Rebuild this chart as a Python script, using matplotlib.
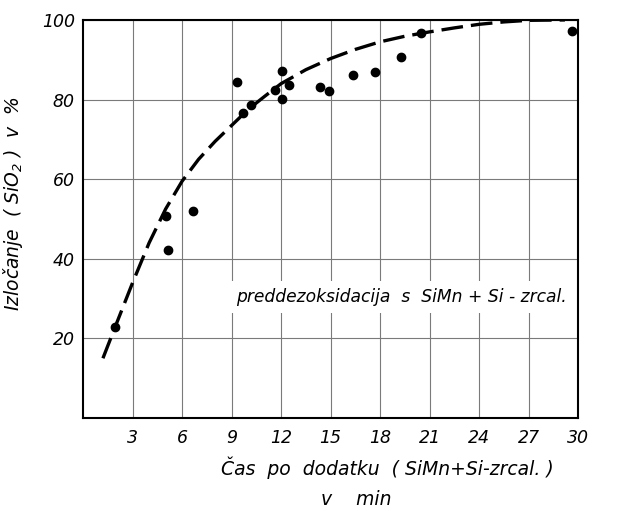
import matplotlib.pyplot as plt
import numpy as np

# measured points
time_min = [1.95, 5.0, 5.15, 6.65, 9.35, 9.7, 10.15, 11.6, 12.05, 12.05,
            12.5, 14.35, 14.9, 16.35, 17.7, 19.25, 20.5, 29.65]
removal = [22.9, 50.7, 42.2, 52.1, 84.4, 76.5, 78.6, 82.5, 87.1, 80.2,
           83.6, 83.1, 82.2, 86.1, 86.9, 90.8, 96.8, 97.2]

# dashed trend curve
curve_x = [1.2, 2.0, 3.0, 4.0, 5.0, 6.0, 7.0, 8.0, 9.0, 10.0, 11.0, 12.0,
           13.5, 15.0, 16.5, 18.0, 19.5, 21.0, 22.5, 24.0, 25.5, 27.0, 29.2]
curve_y = [15.0, 23.5, 34.0, 44.0, 52.5, 59.5, 65.0, 69.5, 73.5, 77.5, 80.8, 84.0,
           87.5, 90.3, 92.6, 94.5, 95.9, 97.0, 98.0, 98.9, 99.5, 99.9, 100.0]

xticks = [3, 6, 9, 12, 15, 18, 21, 24, 27, 30]
yticks = [20, 40, 60, 80, 100]

plt.rcParams['font.family'] = ['DejaVu Sans']
plt.rcParams['font.style'] = 'italic'

fig = plt.figure(figsize=(6.25, 5.11), dpi=100)
ax = fig.add_axes([0.133, 0.182, 0.792, 0.779])

ax.plot(curve_x, curve_y, color='black', linewidth=2.4, dashes=(6.5, 2.4),
        solid_capstyle='butt', dash_capstyle='butt', zorder=3)
ax.plot(time_min, removal, linestyle='none', marker='o', color='black',
        markersize=6, zorder=4)

ax.set_xlim(0, 30)
ax.set_ylim(0, 100)
ax.set_xticks(xticks)
ax.set_yticks(yticks)
ax.tick_params(length=0, labelsize=12.5)
ax.tick_params(axis='x', pad=8)
ax.tick_params(axis='y', pad=6)
ax.grid(True, color='#7a7a7a', linewidth=0.8)
ax.set_axisbelow(True)
for s in ax.spines.values():
    s.set_linewidth(1.5)

ax.set_ylabel('Izločanje  ( SiO$_2$ )  v  %', fontsize=13.5, labelpad=10)
ax.yaxis.set_label_coords(-0.118, 0.54)

ax.text(0.614, -0.125, 'Čas  po  dodatku  ( SiMn+Si-zrcal. )', transform=ax.transAxes,
        ha='center', va='center', fontsize=13.5)
ax.text(0.552, -0.205, 'v    min', transform=ax.transAxes,
        ha='center', va='center', fontsize=13.5)

ax.text(9.25, 30.5, 'preddezoksidacija  s  SiMn + Si - zrcal.', fontsize=12.3,
        ha='left', va='center', zorder=2,
        bbox=dict(facecolor='white', edgecolor='none', pad=5))

fig.savefig('out.png', dpi=100)
